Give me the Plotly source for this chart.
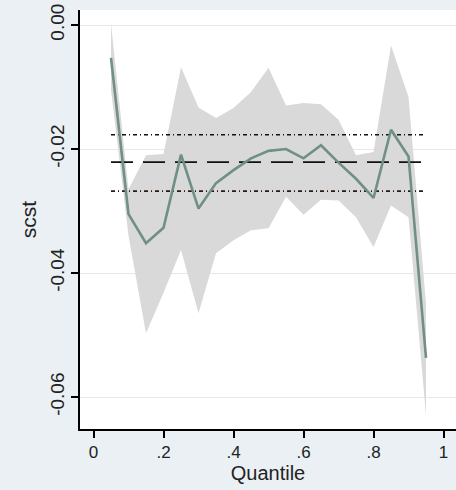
import plotly.graph_objects as go

quantiles = [0.05, 0.10, 0.15, 0.20, 0.25, 0.30, 0.35, 0.40, 0.45, 0.50,
             0.55, 0.60, 0.65, 0.70, 0.75, 0.80, 0.85, 0.90, 0.95]
coef = [-0.0053, -0.0305, -0.0352, -0.0327, -0.0209, -0.0296, -0.0255, -0.0234, -0.0215, -0.0203,
        -0.0200, -0.0215, -0.0194, -0.0222, -0.0248, -0.0279, -0.0169, -0.0212, -0.0537]
upper = [0.0002, -0.0265, -0.0210, -0.0208, -0.0068, -0.0133, -0.0150, -0.0134, -0.0108, -0.0069,
         -0.0130, -0.0126, -0.0128, -0.0153, -0.0210, -0.0205, -0.0033, -0.0116, -0.0450]
lower = [-0.0105, -0.0340, -0.0497, -0.0432, -0.0363, -0.0465, -0.0368, -0.0347, -0.0331, -0.0328,
         -0.0277, -0.0306, -0.0282, -0.0283, -0.0310, -0.0358, -0.0291, -0.0310, -0.0630]
ols_coef = -0.0221
ols_upper = -0.0177
ols_lower = -0.0268

xticks = [0, 0.2, 0.4, 0.6, 0.8, 1]
xticklabels = ["0", ".2", ".4", ".6", ".8", "1"]
yticks = [0, -0.02, -0.04, -0.06]
yticklabels = ["0.00", "-0.02", "-0.04", "-0.06"]

fig = go.Figure()

# confidence band
fig.add_trace(go.Scatter(
    x=quantiles + quantiles[::-1], y=upper + lower[::-1],
    fill="toself", fillcolor="#d9d9d9", line=dict(width=0),
    mode="lines", hoverinfo="skip", showlegend=False))

# OLS lines
xs = [quantiles[0], quantiles[-1]]
fig.add_trace(go.Scatter(x=xs, y=[ols_upper] * 2, mode="lines",
                         line=dict(color="#111111", width=1.6, dash="4px,3px,1px,3px"),
                         showlegend=False))
fig.add_trace(go.Scatter(x=xs, y=[ols_coef] * 2, mode="lines",
                         line=dict(color="#111111", width=1.8, dash="22px,10px"),
                         showlegend=False))
fig.add_trace(go.Scatter(x=xs, y=[ols_lower] * 2, mode="lines",
                         line=dict(color="#2a1a14", width=1.6, dash="4px,3px,1px,3px"),
                         showlegend=False))

# quantile coefficients
fig.add_trace(go.Scatter(x=quantiles, y=coef, mode="lines",
                         line=dict(color="#6f8f87", width=2.6),
                         showlegend=False))

font = "Liberation Sans, Arial, sans-serif"
fig.update_layout(
    width=456, height=490,
    margin=dict(l=80, r=0, t=10, b=61),
    paper_bgcolor="#eaf0f3",
    plot_bgcolor="#ffffff",
    font=dict(family=font, color="#222222"),
    xaxis=dict(
        range=[-0.0386, 1.0357], tickvals=xticks, ticktext=xticklabels,
        showgrid=False, zeroline=False, showline=True, linecolor="#000000", linewidth=1.5,
        ticks="outside", ticklen=7, tickwidth=1.5, tickcolor="#000000",
        tickfont=dict(size=17, family=font, color="#222222"),
        title=dict(text="Quantile", font=dict(size=20, family=font, color="#222222"), standoff=0),
    ),
    yaxis=dict(
        range=[-0.06516, 0.00242], tickvals=yticks, ticktext=yticklabels,
        showgrid=True, gridcolor="#e8e8e8", gridwidth=1, zeroline=False,
        showline=True, linecolor="#000000", linewidth=1.5,
        ticks="outside", ticklen=7, tickwidth=1.5, tickcolor="#000000",
        tickangle=-90,
        tickfont=dict(size=19, family=font, color="#222222"),
        title=dict(text="scst", font=dict(size=21, family=font, color="#222222"), standoff=4),
    ),
)

fig.write_html("out.html")
